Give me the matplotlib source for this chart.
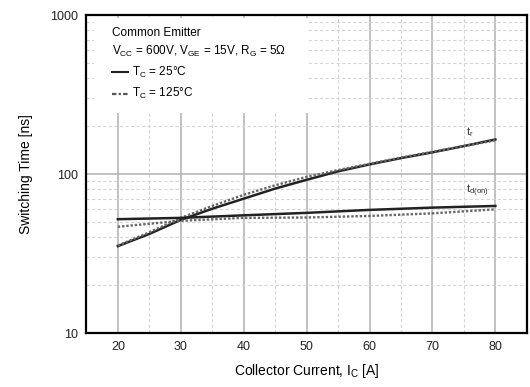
import matplotlib
matplotlib.use("Agg")
import matplotlib.pyplot as plt
from matplotlib.patches import Rectangle
from matplotlib.ticker import FixedLocator, NullFormatter

plt.rcParams['font.family'] = ['Liberation Sans', 'DejaVu Sans']
plt.rcParams['mathtext.fontset'] = 'custom'
plt.rcParams['mathtext.rm'] = 'Liberation Sans'

# collector current [A]
ic = [20, 25, 30, 35, 40, 45, 50, 55, 60, 65, 70, 75, 80]
# rise time t_r [ns]
tr_25 = [35.2, 42, 51.5, 60.5, 70, 81, 92, 104, 115, 126, 137, 150, 165]
tr_125 = [35.5, 43, 53, 63, 74, 85, 96, 106, 116, 127, 138, 150, 163]
# turn-on delay t_d(on) [ns]
ic_d = [20, 30, 40, 50, 60, 70, 80]
td_25 = [52, 53, 55, 57, 59.5, 61.5, 63]
td_125 = [46.6, 50.8, 53, 53.3, 54.5, 56.6, 60]

fig = plt.figure(figsize=(5.3, 3.87), dpi=100)
ax = fig.add_axes([0.163, 0.1395, 0.831, 0.8215])

ax.set_yscale('log')
ax.set_xlim(15, 85)
ax.set_ylim(10, 1000)

ax.xaxis.set_major_locator(FixedLocator([20, 30, 40, 50, 60, 70, 80]))
ax.xaxis.set_minor_locator(FixedLocator([25, 35, 45, 55, 65, 75]))
ax.yaxis.set_major_locator(FixedLocator([10, 100, 1000]))
ax.yaxis.set_minor_locator(FixedLocator([v * d for d in (10, 100) for v in range(2, 10)]))
ax.set_yticklabels(['10', '100', '1000'])
ax.yaxis.set_minor_formatter(NullFormatter())
ax.tick_params(which='both', length=0, labelsize=9, pad=6, labelcolor='#222222')

ax.set_axisbelow(True)
ax.grid(which='major', color='#b0b0b0', lw=1.1, ls='-')
ax.grid(which='minor', color='#d6d6d6', lw=0.8, ls=(0, (3, 2)))

for s in ax.spines.values():
    s.set_linewidth(1.6)

# blank area behind the conditions text
ax.add_patch(Rectangle((0.017, 0.692), 0.486, 0.30, transform=ax.transAxes,
                       facecolor='white', edgecolor='none', zorder=1))

dot = (0, (1, 0.8))
ax.plot(ic, tr_25, color='#222222', lw=1.8, zorder=3)
ax.plot(ic, tr_125, color='#666666', lw=1.7, ls=dot, zorder=3)
ax.plot(ic_d, td_25, color='#222222', lw=1.8, zorder=3)
ax.plot(ic_d, td_125, color='#666666', lw=1.7, ls=dot, zorder=3)

ax.text(75.3, 184, r'$\mathregular{t_r}$', fontsize=8, ha='left', va='center', color='#333333')
ax.text(75.3, 79, r'$\mathregular{t_{d(on)}}$', fontsize=8, ha='left', va='center', color='#333333')

tx = 0.058
ax.text(tx, 0.945, 'Common Emitter', transform=ax.transAxes, fontsize=8.5, va='center', zorder=4)
ax.text(tx, 0.887, r'$\mathregular{V_{CC}}$ = 600V, $\mathregular{V_{GE}}$ = 15V, $\mathregular{R_G}$ = 5Ω',
        transform=ax.transAxes, fontsize=8.5, va='center', zorder=4)
ax.plot([0.058, 0.094], [0.82, 0.82], transform=ax.transAxes, color='#222222', lw=1.5, zorder=4)
ax.text(0.104, 0.82, r'$\mathregular{T_C}$ = 25°C', transform=ax.transAxes, fontsize=8.5, va='center', zorder=4)
ax.plot([0.058, 0.094], [0.752, 0.752], transform=ax.transAxes, color='#555555', lw=1.6,
        ls=(0, (2, 1, 1, 1)), zorder=4)
ax.text(0.104, 0.752, r'$\mathregular{T_C}$ = 125°C', transform=ax.transAxes, fontsize=8.5, va='center', zorder=4)

ax.set_xlabel(r'Collector Current, $\mathregular{I_C}$ [A]', fontsize=10, labelpad=6)
ax.set_ylabel('Switching Time [ns]', fontsize=10, labelpad=12)

fig.savefig('out.png', dpi=100)
